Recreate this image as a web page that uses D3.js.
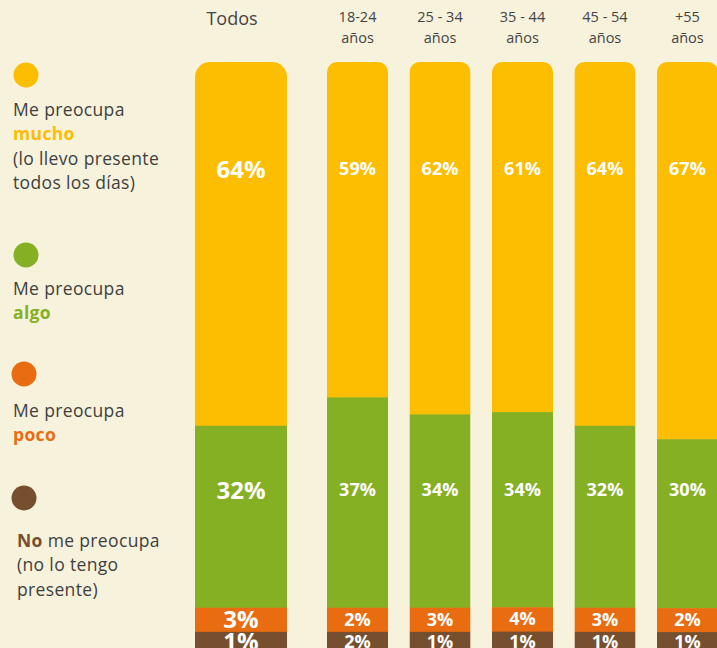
<!DOCTYPE html>
<html>
<head>
<meta charset="utf-8">
<script src="https://cdn.jsdelivr.net/npm/d3@7/dist/d3.min.js"></script>
<style>
    html, body { margin: 0; padding: 0; background: #f7f2dc; }
    #chart { width: 717px; height: 648px; overflow: hidden; }
    text { font-family: 'Open Sans', sans-serif; }
</style>
</head>
<body>
<div id="chart"></div>
<script>
// Data
let groups = ['Todos', '18-24', '25 - 34', '35 - 44', '45 - 54', '+55'];
let mucho = [64, 59, 62, 61, 64, 67];
let algo = [32, 37, 34, 34, 32, 30];
let poco = [3, 2, 3, 4, 3, 2];
let nada = [1, 2, 1, 1, 1, 1];
let colors = ['#fdbd00', '#86b023', '#e96d10', '#764f2e'];

let width = 717, height = 648;
let barTop = 62, barBottom = 656;
// small slices get a minimum size so their label fits
let minShare = 4.25;

let svg = d3.select('#chart').append('svg')
    .attr('width', width)
    .attr('height', height);

svg.append('rect')
    .attr('width', width).attr('height', height)
    .style('fill', '#f7f2dc');

// Age columns share a band scale, "Todos" sits on its own
let x = d3.scaleBand()
    .domain(groups.slice(1))
    .range([327, 718])
    .paddingInner(0.26)
    .paddingOuter(0);

let cols = groups.map(function(g, i) {
    let isAll = (i === 0);
    return {
        name: g,
        i: i,
        x: isAll ? 195 : x(g),
        w: isAll ? 92 : x.bandwidth(),
        r: isAll ? 15 : 10,
        big: isAll,
        values: [mucho[i], algo[i], poco[i], nada[i]]
    };
});

let defs = svg.append('defs');

cols.forEach(function(c) {
    defs.append('clipPath')
        .attr('id', 'clip-' + c.i)
        .append('rect')
        .attr('x', c.x)
        .attr('y', barTop)
        .attr('width', c.w)
        .attr('height', barBottom - barTop + 30)
        .attr('rx', c.r)
        .attr('ry', c.r);

    let shown = c.values.map(function(v) { return Math.max(v, minShare); });
    let y = d3.scaleLinear()
        .domain([0, d3.sum(shown)])
        .range([barTop, barBottom]);

    let stack = [];
    let acc = 0;
    shown.forEach(function(v, k) {
        stack.push({ k: k, y0: acc, y1: acc + v, value: c.values[k] });
        acc += v;
    });

    let g = svg.append('g')
        .attr('class', 'bar-col')
        .attr('clip-path', 'url(#clip-' + c.i + ')');

    g.selectAll('rect')
        .data(stack)
        .enter()
        .append('rect')
        .attr('x', c.x)
        .attr('width', c.w)
        .attr('y', function(d) { return y(d.y0); })
        .attr('height', function(d) { return y(d.y1) - y(d.y0) + (d.k < 3 ? 0.5 : 0); })
        .style('fill', function(d) { return colors[d.k]; });

    // labels: big slices use fixed rows, small ones sit in the middle
    let labelRows = [168, 489];
    svg.selectAll('.lbl-' + c.i)
        .data(stack)
        .enter()
        .append('text')
        .attr('class', 'lbl-' + c.i)
        .attr('x', c.x + c.w / 2)
        .attr('y', function(d) {
            if (d.k < 2) return labelRows[d.k];
            return (y(d.y0) + y(d.y1)) / 2 - (d.k === 3 ? 3 : 1);
        })
        .attr('text-anchor', 'middle')
        .attr('dominant-baseline', 'central')
        .style('font-size', c.big ? '24px' : '18px')
        .style('font-weight', 'bold')
        .style('fill', '#fff')
        .text(function(d) { return d.value + '%'; });
});

// Column headers
svg.append('text')
    .attr('x', cols[0].x + cols[0].w / 2 - 9)
    .attr('y', 25)
    .attr('text-anchor', 'middle')
    .style('font-size', '18px')
    .style('fill', '#444')
    .text(groups[0]);

cols.slice(1).forEach(function(c) {
    let t = svg.append('text')
        .attr('x', c.x + c.w / 2)
        .attr('y', 22)
        .attr('text-anchor', 'middle')
        .style('font-size', '14.5px')
        .style('fill', '#444');
    t.append('tspan').attr('x', c.x + c.w / 2).text(c.name);
    t.append('tspan').attr('x', c.x + c.w / 2).attr('dy', 21).text('años');
});

// Legend
let legend = [
    { color: colors[0], cy: 75, ty: 116, lines: [['Me preocupa'], ['mucho', true], ['(lo llevo presente'], ['todos los días)']] },
    { color: colors[1], cy: 255, ty: 295, lines: [['Me preocupa'], ['algo', true]] },
    { color: colors[2], cy: 374, ty: 417, lines: [['Me preocupa'], ['poco', true]] },
    { color: colors[3], cy: 498, ty: 547, lines: [['No', true, ' me preocupa'], ['(no lo tengo'], ['presente)']] }
];

legend.forEach(function(l, i) {
    let lx = (i === 3) ? 17 : 13;
    svg.append('circle')
        .attr('cx', (i < 2 ? 13 : 11) + 13)
        .attr('cy', l.cy)
        .attr('r', 12.5)
        .style('fill', l.color);

    let t = svg.append('text')
        .attr('y', l.ty)
        .style('font-size', '17.5px')
        .style('letter-spacing', '0.35px')
        .style('fill', '#3f3f3f');

    l.lines.forEach(function(line, j) {
        let s = t.append('tspan')
            .attr('x', lx)
            .attr('dy', j === 0 ? 0 : 24.3)
            .text(line[0]);
        if (line[1]) {
            s.style('font-weight', 'bold').style('fill', l.color);
        }
        if (line[2]) {
            t.append('tspan').text(line[2]);
        }
    });
});
</script>
</body>
</html>
